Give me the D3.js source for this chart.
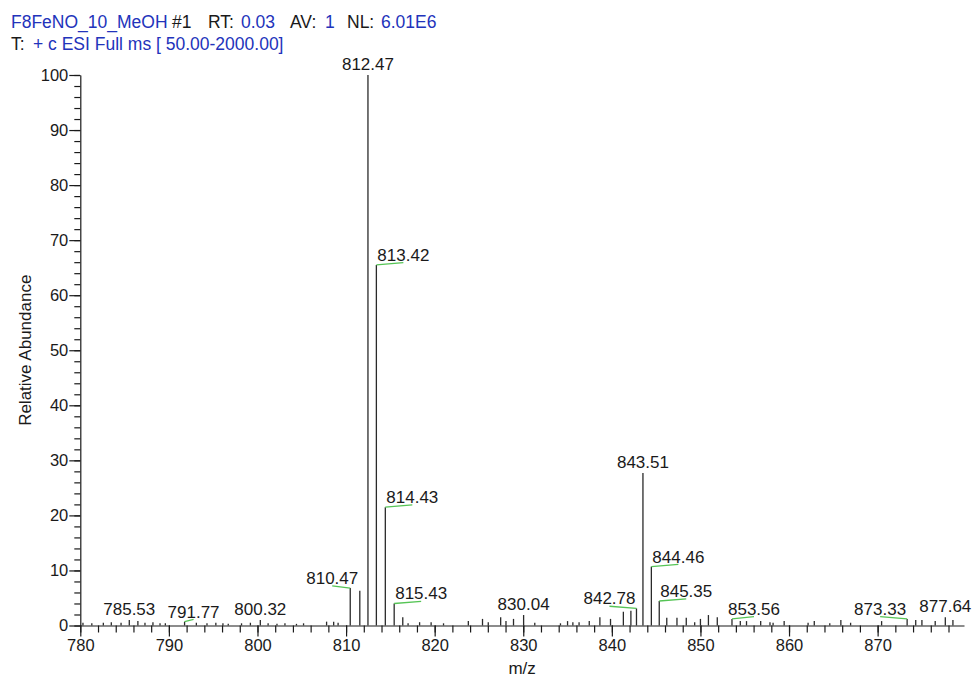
<!DOCTYPE html>
<html>
<head>
<meta charset="utf-8">
<script src="https://cdn.jsdelivr.net/npm/d3@7"></script>
<style>
  html, body { margin: 0; padding: 0; background: #fff; }
  svg { display: block; font-family: "Liberation Sans", Arial, sans-serif; }
</style>
</head>
<body>
<svg id="chart" width="975" height="679"></svg>
<script>
// Centroid peaks of the spectrum: m/z and relative abundance (%)
const peakMz = [
  780.3, 781.3, 782.6, 783.5, 784.6, 785.53, 786.5, 787.3, 788.2, 789.0, 789.6,
  791.77, 793.1, 794.3, 795.3, 796.1, 796.7, 798.2, 799.2, 800.32, 801.2, 802.2,
  803.1, 804.4, 805.2, 807.8, 808.6, 809.1, 810.47, 811.55, 812.47, 813.42, 814.43,
  815.43, 816.4, 817.0, 818.3, 819.6, 821.0, 823.8, 825.4, 826.05, 827.45, 828.05,
  828.9, 830.04, 831.3, 834.2, 835.0, 835.6, 836.3, 837.45, 838.65, 839.85, 841.3,
  842.15, 842.78, 843.51, 844.46, 845.35, 846.2, 847.35, 848.4, 849.35, 850.0,
  850.9, 851.9, 853.56, 854.5, 855.2, 856.8, 857.85, 858.2, 859.45, 862.15, 862.85,
  864.6, 865.85, 866.95, 870.45, 873.33, 874.3, 875.0, 876.5, 877.64, 878.5
];
const peakAbundance = [
  0.5, 0.4, 0.5, 0.6, 0.5, 1.0, 0.8, 0.5, 0.6, 0.4, 0.4,
  0.7, 0.5, 0.4, 0.5, 0.4, 0.3, 0.4, 0.5, 1.0, 0.4, 0.3,
  0.4, 0.3, 0.4, 0.7, 0.7, 0.5, 6.8, 6.3, 100, 65.5, 21.5,
  4.0, 1.5, 0.4, 0.6, 0.6, 0.4, 0.8, 1.2, 0.6, 1.5, 0.8,
  1.2, 1.9, 0.5, 0.4, 0.8, 0.6, 0.6, 0.8, 1.5, 1.2, 2.5,
  2.7, 3.1, 27.7, 10.7, 4.45, 1.4, 1.4, 1.4, 0.6, 1.2,
  1.9, 1.5, 1.2, 0.8, 0.8, 0.8, 0.6, 0.5, 0.8, 0.5, 0.8,
  0.4, 1.0, 0.5, 0.8, 1.2, 1.0, 1.0, 0.8, 1.5, 1.0
];

// Peaks carrying an m/z annotation
const labeledMz = [785.53, 791.77, 800.32, 810.47, 812.47, 813.42, 814.43, 815.43,
                   830.04, 842.78, 843.51, 844.46, 845.35, 853.56, 873.33, 877.64];
// Horizontal displacement of each annotation from its peak (px); 0 = centred above
const labelShift = [0, 9, 0, -18, 0, 27, 27, 27, 0, -27, 0, 27, 27, 22, -27, 0];

// Axis ticks
const xMajorTicks = [780, 790, 800, 810, 820, 830, 840, 850, 860, 870];
const xMinorTicks = d3.range(780, 880, 2);
const yMajorTicks = [0, 10, 20, 30, 40, 50, 60, 70, 80, 90, 100];
const yMinorTicks = d3.range(0, 101, 2);

// Header text segments: [text, colour role]
const headerLine1 = [["F8FeNO_10_MeOH", "v", 11], ["#1", "k", 172], ["RT:", "k", 208], ["0.03", "v", 241],
                     ["AV:", "k", 290], ["1", "v", 325], ["NL:", "k", 347], ["6.01E6", "v", 381]];
const headerLine2 = [["T:", "k", 11], ["+ c ESI Full ms [ 50.00-2000.00]", "v", 33]];

const blue = "#2233bb";
const ink = "#1a1a1a";
const connectorGreen = "#55c455";

const svg = d3.select("#chart");
const x = d3.scaleLinear().domain([780, 879.75]).range([80.3, 964]);
const y = d3.scaleLinear().domain([0, 100]).range([625.5, 75]);

// Header
function drawHeader(segments, baseline) {
  const t = svg.append("text").attr("y", baseline).attr("font-size", 17.5);
  segments.forEach(([s, role, px]) => {
    t.append("tspan").attr("x", px).attr("fill", role === "v" ? blue : ink).text(s);
  });
}
drawHeader(headerLine1, 27.5);
drawHeader(headerLine2, 49.5);

// X axis: minor and major ticks
const xAxisG = svg.append("g").attr("transform", `translate(0,${y(0)})`);
xAxisG.append("g")
  .call(d3.axisBottom(x).tickValues(xMinorTicks).tickSize(7).tickSizeOuter(0).tickFormat(""))
  .call(g => g.select(".domain").remove());
xAxisG.append("g")
  .call(d3.axisBottom(x).tickValues(xMajorTicks).tickSize(11).tickSizeOuter(0).tickPadding(3))
  .call(g => g.selectAll("text").attr("font-size", 16.5).attr("fill", ink).attr("font-family", null));
xAxisG.selectAll("line, path").attr("stroke", ink).attr("stroke-width", 1.2);

// Y axis: minor and major ticks
const yAxisG = svg.append("g").attr("transform", `translate(${x(780)},0)`);
yAxisG.append("g")
  .call(d3.axisLeft(y).tickValues(yMinorTicks).tickSize(6).tickSizeOuter(0).tickFormat(""))
  .call(g => g.select(".domain").remove());
yAxisG.append("g")
  .call(d3.axisLeft(y).tickValues(yMajorTicks).tickSize(11).tickSizeOuter(0).tickPadding(1))
  .call(g => g.selectAll("text").attr("font-size", 16.5).attr("fill", ink).attr("font-family", null));
yAxisG.selectAll("line, path").attr("stroke", ink).attr("stroke-width", 1.2);

// Axis titles
svg.append("text")
  .attr("x", (x.range()[0] + x.range()[1]) / 2).attr("y", 674)
  .attr("text-anchor", "middle").attr("font-size", 17).attr("fill", ink)
  .text("m/z");
svg.append("text")
  .attr("transform", `translate(31,${(y(0) + y(100)) / 2}) rotate(-90)`)
  .attr("text-anchor", "middle").attr("font-size", 17).attr("fill", ink)
  .text("Relative Abundance");

// Peak sticks
const peaks = peakMz.map((m, i) => ({ mz: m, ab: peakAbundance[i] }));
svg.append("g").selectAll("line").data(peaks).join("line")
  .attr("x1", d => x(d.mz)).attr("x2", d => x(d.mz))
  .attr("y1", y(0)).attr("y2", d => y(d.ab))
  .attr("stroke", "#2a2a2a").attr("stroke-width", 1.3);

// Annotations
const labels = labeledMz.map((m, i) => {
  const p = peaks.find(q => Math.abs(q.mz - m) < 1e-6);
  return { mz: m, ab: p.ab, shift: labelShift[i] };
});
const lg = svg.append("g");
labels.forEach(d => {
  const px = x(d.mz), py = y(d.ab);
  const cx = px + d.shift;
  const base = d.shift === 0 ? py - 5 : py - 4;
  if (d.shift !== 0) {
    lg.append("line")
      .attr("x1", px).attr("y1", py).attr("x2", cx).attr("y2", base + 1.8)
      .attr("stroke", connectorGreen).attr("stroke-width", 1.3);
  }
  lg.append("text")
    .attr("x", cx).attr("y", base)
    .attr("text-anchor", "middle").attr("font-size", 17).attr("fill", ink)
    .text(d.mz.toFixed(2));
});
</script>
</body>
</html>
